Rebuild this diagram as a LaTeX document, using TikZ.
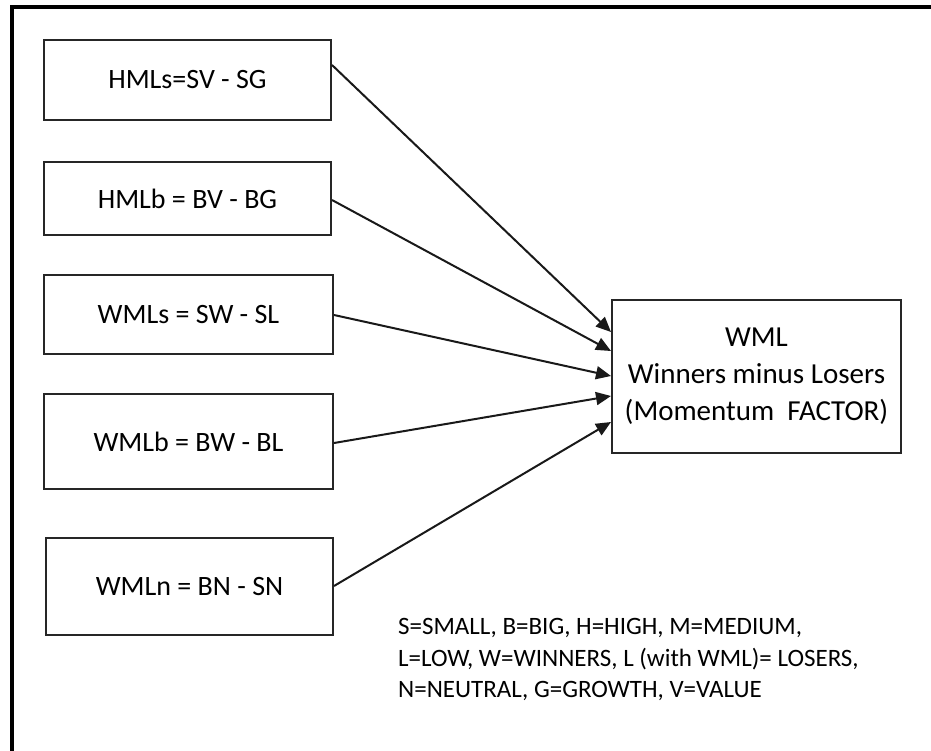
\documentclass[tikz,border=0pt]{standalone}
\usepackage{fontspec}
\setmainfont{Carlito}
\usetikzlibrary{arrows.meta}
\begin{document}
\begin{tikzpicture}[x=1pt,y=-1pt,
  factorbox/.style={draw=black!85,line width=2pt,rectangle,inner sep=0pt,
    font=\fontsize{28}{34}\selectfont},
  conn/.style={draw=black!90,line width=2pt,-{Triangle[length=15pt,width=13pt]}},
  frame/.style={line width=4pt,black}]
\useasboundingbox (0,0) rectangle (931,751);
\draw[frame] (11.5,751) -- (11.5,7.5) -- (931,7.5);
\node[factorbox,minimum width=287pt,minimum height=80pt] (b1) at (187.5,80) {HMLs=SV - SG};
\node[factorbox,minimum width=287pt,minimum height=73pt] (b2) at (187.5,198.5) {HMLb = BV - BG};
\node[factorbox,minimum width=289pt,minimum height=79pt] (b3) at (188.5,314.5) {WMLs = SW - SL};
\node[factorbox,minimum width=289pt,minimum height=95pt] (b4) at (188.5,441.5) {WMLb = BW - BL};
\node[factorbox,minimum width=287pt,minimum height=97pt] (b5) at (189.5,586.5) {WMLn = BN - SN};
\node[factorbox,minimum width=289pt,minimum height=153pt,align=center,
  font=\fontsize{29}{37}\selectfont] (w) at (756.5,376.5)
  {WML\\Winners minus Losers\\(Momentum~~FACTOR)};
\draw[conn] ([yshift=15pt]b1.east) -- ([yshift=44.5pt]w.west);
\draw[conn] ([yshift=-1.5pt]b2.east) -- ([yshift=25.5pt]w.west);
\draw[conn] ([yshift=-0.5pt]b3.east) -- ([yshift=0.5pt]w.west);
\draw[conn] ([yshift=-1.5pt]b4.east) -- ([yshift=-19.5pt]w.west);
\draw[conn] ([yshift=0.5pt]b5.east) -- ([yshift=-45.5pt]w.west);
\node[anchor=north west,inner sep=0pt,align=left,font=\fontsize{25}{31.5}\selectfont] (legend) at (398,618.5)
  {S=SMALL, B=BIG, H=HIGH, M=MEDIUM,\\L=LOW, W=WINNERS, L (with WML)= LOSERS,\\N=NEUTRAL, G=GROWTH, V=VALUE};
\end{tikzpicture}
\end{document}
